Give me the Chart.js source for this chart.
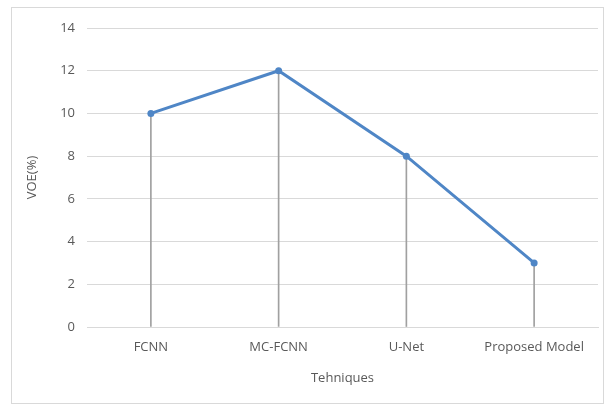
<!DOCTYPE html>
<html>
<head>
<meta charset="utf-8">
<script src="https://cdn.jsdelivr.net/npm/chart.js@4"></script>
<style>
html,body{margin:0;padding:0;background:#fff;}
#wrap{position:relative;width:613px;height:407px;}
#frame{position:absolute;left:11px;top:7px;width:593px;height:397px;border:1px solid #d9d9d9;box-sizing:border-box;}
canvas{position:absolute;left:0;top:0;}
</style>
</head>
<body>
<div id="wrap">
<div id="frame"></div>
<canvas id="c" width="613" height="407"></canvas>
</div>
<script>
const categories = ["FCNN", "MC-FCNN", "U-Net", "Proposed Model"];
const voeValues = [10, 12, 8, 3];
const yMin = 0, yMax = 14, yStep = 2;

const textColor = '#595959';
const fontFamily = "'Open Sans', 'Liberation Sans', sans-serif";

new Chart(document.getElementById('c'), {
  data: {
    labels: categories,
    datasets: [
      {
        type: 'line',
        data: voeValues,
        borderColor: '#4f86c6',
        backgroundColor: '#4f86c6',
        borderWidth: 3,
        pointRadius: 3.5,
        pointBorderWidth: 0,
        tension: 0,
        order: 0
      },
      {
        type: 'bar',
        data: voeValues,
        backgroundColor: '#a0a0a0',
        barThickness: 1,
        order: 1
      }
    ]
  },
  options: {
    responsive: false,
    animation: false,
    devicePixelRatio: 1,
    layout: { padding: { left: 20, right: 15, top: 28, bottom: 21 } },
    plugins: { legend: { display: false }, tooltip: { enabled: false } },
    scales: {
      x: {
        grid: { display: false, drawTicks: false },
        border: { display: true, color: '#d9d9d9' },
        ticks: { color: textColor, font: { family: fontFamily, size: 13 }, padding: 12, maxRotation: 0 },
        title: { display: true, text: 'Tehniques', color: textColor, font: { family: fontFamily, size: 13 }, padding: { top: 4, bottom: 0 } },
        afterFit: s => { s.height = 59; }
      },
      y: {
        min: yMin, max: yMax,
        ticks: { stepSize: yStep, color: textColor, font: { family: fontFamily, size: 13 }, padding: 12 },
        grid: { color: '#d9d9d9', drawTicks: false },
        border: { display: false },
        title: { display: true, text: 'VOE(%)', color: textColor, font: { family: fontFamily, size: 13 }, padding: { top: 4, bottom: 4 } },
        afterFit: s => { s.width = 67; }
      }
    }
  }
});
</script>
</body>
</html>
